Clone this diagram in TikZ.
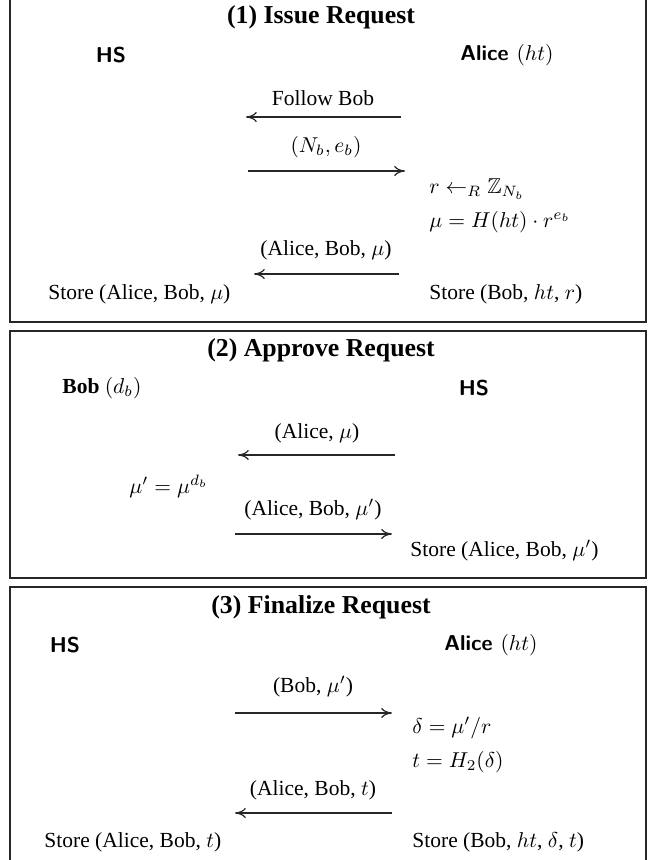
\documentclass[tikz,border=0pt]{standalone}
\usepackage[no-math]{fontspec}
\setmainfont{Liberation Serif}
\usepackage{amssymb}
\usetikzlibrary{arrows.meta}
\begin{document}
\begin{tikzpicture}[x=0.465pt,y=-0.465pt,
  frame/.style={draw=black!85,line width=0.7pt},
  ttl/.style={font=\large\bfseries,inner sep=0pt,anchor=center},
  party/.style={font=\sffamily\bfseries,inner sep=0pt},
  txt/.style={inner sep=0pt},
  msg/.style={draw=black!85,line width=0.55pt,-{To[length=5pt,width=4.6pt]}}]
\useasboundingbox (0,0) rectangle (652,860);
% frames
\draw[frame] (10,-5) rectangle (646,322);
\draw[frame] (10,331) rectangle (646,578);
\draw[frame] (10,587) rectangle (646,875);
% ---- (1) Issue Request
\node[ttl] (t1) at (321,17) {(1) Issue Request};
\node[party,anchor=center] (hs1) at (111,55) {HS};
\node[party,anchor=west] (al1) at (460,55) {Alice \normalfont$(ht)$};
\node[txt,anchor=center] (m1) at (323,98) {Follow Bob};
\coordinate (a1s) at (401,117); \coordinate (a1e) at (246,117);
\draw[msg] (a1s) -- (a1e);
\node[txt,anchor=center] (m2) at (326,147) {$(N_b, e_b)$};
\coordinate (a2s) at (248,171); \coordinate (a2e) at (405,171);
\draw[msg] (a2s) -- (a2e);
\node[txt,anchor=west] (c1) at (429,189) {$r \leftarrow_R \mathbb{Z}_{N_b}$};
\node[txt,anchor=west] (c2) at (429,222) {$\mu = H(ht) \cdot r^{e_b}$};
\node[txt,anchor=center] (m3) at (326,250) {(Alice, Bob, $\mu$)};
\coordinate (a3s) at (399,274); \coordinate (a3e) at (254,274);
\draw[msg] (a3s) -- (a3e);
\node[txt,anchor=west] (s1) at (48,294) {Store (Alice, Bob, $\mu$)};
\node[txt,anchor=west] (s2) at (429,294) {Store (Bob, $ht$, $r$)};
% ---- (2) Approve Request
\node[ttl] (t2) at (321,350) {(2) Approve Request};
\node[txt,anchor=west] (bob2) at (62,388) {\textbf{Bob} $(d_b)$};
\node[party,anchor=center] (hs2) at (474,388) {HS};
\node[txt,anchor=center] (m4) at (317,433) {(Alice, $\mu$)};
\coordinate (a4s) at (395,455); \coordinate (a4e) at (238,455);
\draw[msg] (a4s) -- (a4e);
\node[txt,anchor=west] (c3) at (129,486) {$\mu' = \mu^{d_b}$};
\node[txt,anchor=center] (m5) at (313,510) {(Alice, Bob, $\mu'$)};
\coordinate (a5s) at (235,534); \coordinate (a5e) at (392,534);
\draw[msg] (a5s) -- (a5e);
\node[txt,anchor=west] (s3) at (410,551) {Store (Alice, Bob, $\mu'$)};
% ---- (3) Finalize Request
\node[ttl] (t3) at (321,607) {(3) Finalize Request};
\node[party,anchor=center] (hs3) at (65,645) {HS};
\node[party,anchor=west] (al3) at (444,645) {Alice \normalfont$(ht)$};
\node[txt,anchor=center] (m6) at (313,687) {(Bob, $\mu'$)};
\coordinate (a6s) at (235,713); \coordinate (a6e) at (392,713);
\draw[msg] (a6s) -- (a6e);
\node[txt,anchor=west] (c4) at (412,728) {$\delta = \mu'/r$};
\node[txt,anchor=west] (c5) at (412,762) {$t = H_2(\delta)$};
\node[txt,anchor=center] (m7) at (313,790) {(Alice, Bob, $t$)};
\coordinate (a7s) at (392,813); \coordinate (a7e) at (235,813);
\draw[msg] (a7s) -- (a7e);
\node[txt,anchor=west] (s4) at (44,842) {Store (Alice, Bob, $t$)};
\node[txt,anchor=west] (s5) at (412,842) {Store (Bob, $ht$, $\delta$, $t$)};
\end{tikzpicture}
\end{document}
